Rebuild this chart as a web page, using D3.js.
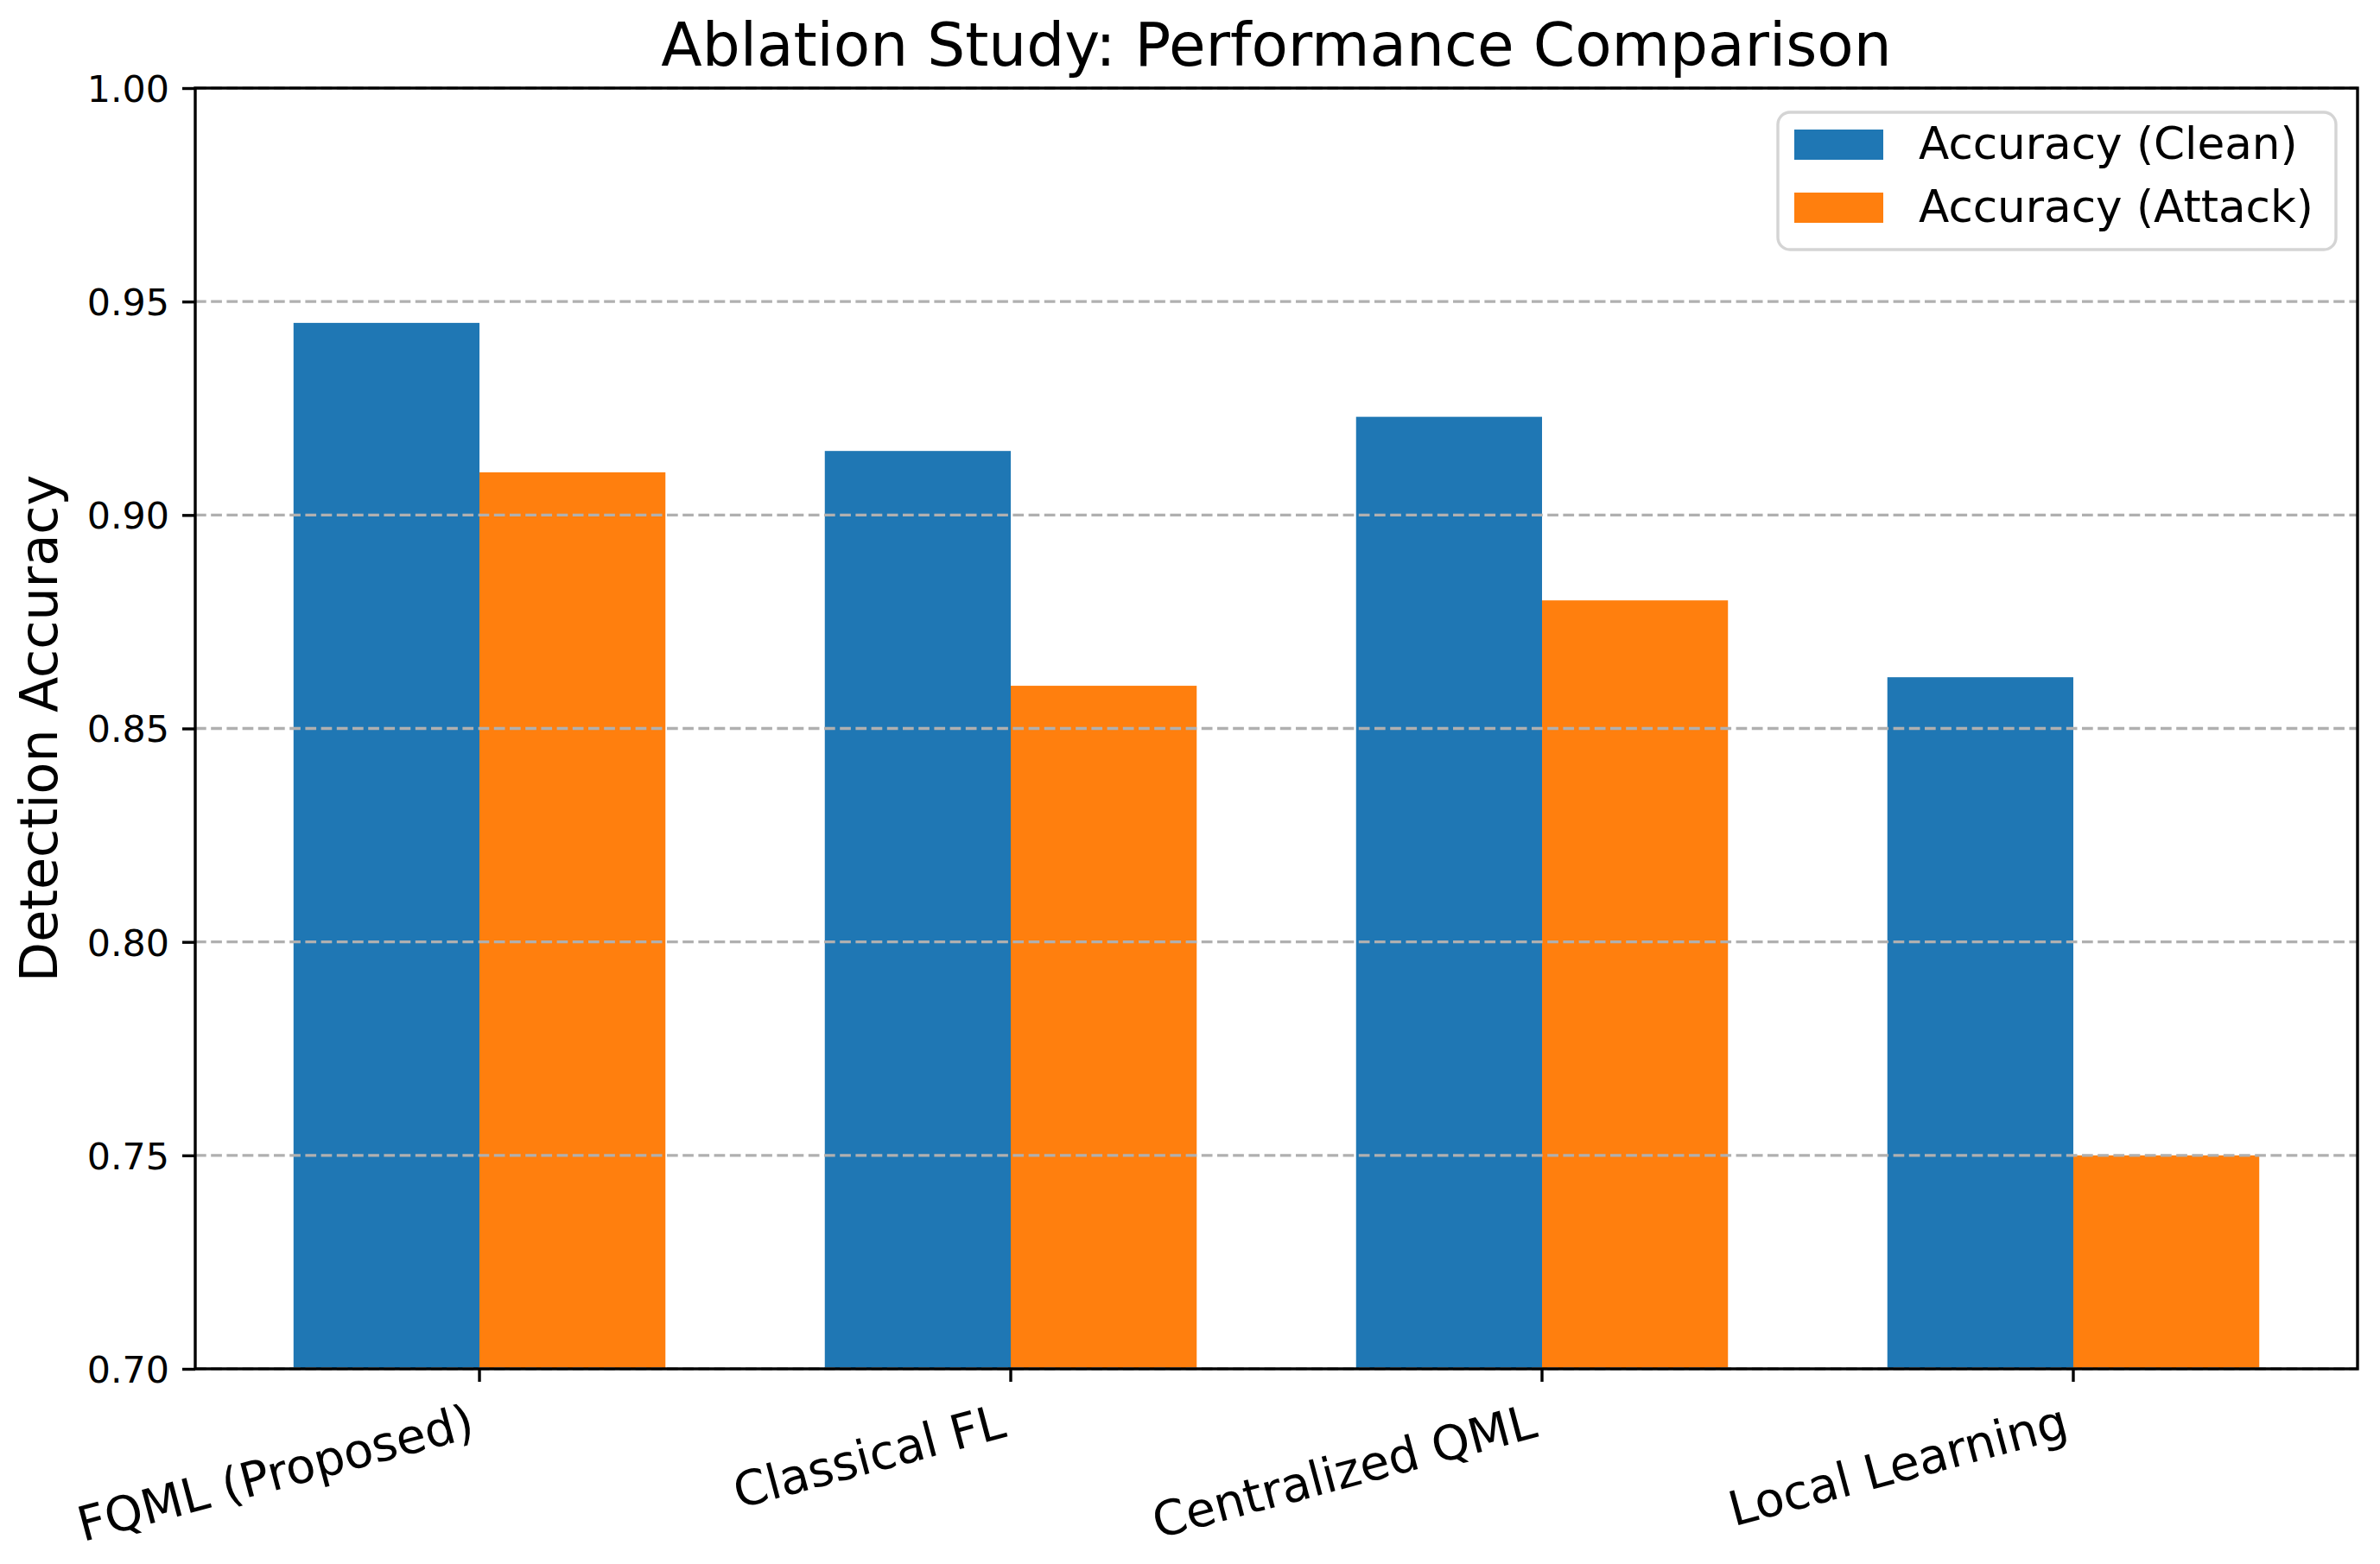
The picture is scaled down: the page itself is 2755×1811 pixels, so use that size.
<!DOCTYPE html>
<html>
<head>
<meta charset="utf-8">
<script src="https://cdn.jsdelivr.net/npm/d3@7"></script>
<style>
  html, body { margin: 0; padding: 0; background: #fff; }
  svg { display: block; font-family: "DejaVu Sans", sans-serif; }
</style>
</head>
<body>
<svg id="chart" width="2755" height="1811"></svg>
<script>
// ---- data ----
const categories = ["FQML (Proposed)", "Classical FL", "Centralized QML", "Local Learning"];
const seriesNames = ["Accuracy (Clean)", "Accuracy (Attack)"];
const cleanValues = [0.945, 0.915, 0.923, 0.862];
const attackValues = [0.910, 0.860, 0.880, 0.750];
const yTicks = [0.70, 0.75, 0.80, 0.85, 0.90, 0.95, 1.00];
const seriesColors = ["#1f77b4", "#ff7f0e"];
const titleText = "Ablation Study: Performance Comparison";
const yLabelText = "Detection Accuracy";

const series = [cleanValues, attackValues];

// ---- layout ----
const W = 2755, H = 1811;
const L = 226, R = 2729, T = 102, B = 1585;
const lw = 3.4;

const svg = d3.select("#chart");
svg.append("rect").attr("width", W).attr("height", H).attr("fill", "#fff");

const x0 = d3.scaleBand().domain(categories).range([L, R])
  .paddingInner(0.3).paddingOuter(0.185);
const x1 = d3.scaleBand().domain(seriesNames).range([0, x0.bandwidth()]).padding(0);
const y = d3.scaleLinear().domain([0.70, 1.00]).range([B, T]);

// bars
const gBars = svg.append("g");
categories.forEach((c, i) => {
  seriesNames.forEach((s, j) => {
    const v = series[j][i];
    gBars.append("rect")
      .attr("x", x0(c) + x1(s))
      .attr("y", y(v))
      .attr("width", x1.bandwidth())
      .attr("height", y(0.70) - y(v))
      .attr("fill", seriesColors[j]);
  });
});

// grid (above bars, like matplotlib)
svg.append("g")
  .selectAll("line").data(yTicks).join("line")
  .attr("x1", L).attr("x2", R)
  .attr("y1", d => y(d)).attr("y2", d => y(d))
  .attr("stroke", "#b0b0b0")
  .attr("stroke-width", lw)
  .attr("stroke-dasharray", "12.7,5.5");

// y axis
const yAxis = svg.append("g").attr("transform", `translate(${L},0)`)
  .call(d3.axisLeft(y).tickValues(yTicks).tickFormat(d3.format(".2f")).tickSize(15).tickPadding(15));
yAxis.select(".domain").remove();
yAxis.selectAll(".tick line").attr("stroke", "#000").attr("stroke-width", lw);
yAxis.selectAll(".tick text")
  .attr("font-family", "DejaVu Sans").attr("font-size", 42.8).attr("fill", "#000")
  .attr("dy", "0.36em");
yAxis.attr("font-family", null).attr("font-size", null);

// x axis
const xAxis = svg.append("g").attr("transform", `translate(0,${B})`)
  .call(d3.axisBottom(x0).tickSize(15).tickPadding(0));
xAxis.select(".domain").remove();
xAxis.attr("font-family", null).attr("font-size", null);
xAxis.selectAll(".tick line").attr("stroke", "#000").attr("stroke-width", lw);
const ang = 15 * Math.PI / 180;
xAxis.selectAll(".tick text")
  .attr("font-family", "DejaVu Sans").attr("font-size", 55.6).attr("fill", "#000")
  .attr("text-anchor", "end").attr("y", 0).attr("dy", 0)
  .each(function () {
    const b = this.getBBox();
    const corners = [[b.x, b.y], [b.x + b.width, b.y], [b.x, b.y + b.height], [b.x + b.width, b.y + b.height]];
    let maxX = -Infinity, minY = Infinity;
    corners.forEach(([px, py]) => {
      const xr = px * Math.cos(ang) + py * Math.sin(ang);
      const yr = -px * Math.sin(ang) + py * Math.cos(ang);
      maxX = Math.max(maxX, xr);
      minY = Math.min(minY, yr);
    });
    const tx = -maxX, ty = 15 + 13 - minY;
    d3.select(this).attr("transform", `translate(${tx},${ty}) rotate(-15)`);
  });

// spines
svg.append("rect")
  .attr("x", L).attr("y", T).attr("width", R - L).attr("height", B - T)
  .attr("fill", "none").attr("stroke", "#000").attr("stroke-width", lw)
  .attr("stroke-linejoin", "miter");

// title
svg.append("text")
  .attr("x", (L + R) / 2).attr("y", 76)
  .attr("text-anchor", "middle")
  .attr("font-size", 69.3).attr("fill", "#000")
  .text(titleText);

// y label
svg.append("text")
  .attr("transform", `translate(66,${(T + B) / 2}) rotate(-90)`)
  .attr("text-anchor", "middle")
  .attr("font-size", 60.3).attr("fill", "#000")
  .text(yLabelText);

// legend
const lg = svg.append("g");
lg.append("rect")
  .attr("x", 2058).attr("y", 130).attr("width", 646).attr("height", 159)
  .attr("rx", 14).attr("ry", 14)
  .attr("fill", "#fff").attr("fill-opacity", 0.8)
  .attr("stroke", "#d4d4d4").attr("stroke-width", 3.4);
const legendRows = [150, 223];
seriesNames.forEach((s, j) => {
  lg.append("rect")
    .attr("x", 2077).attr("y", legendRows[j])
    .attr("width", 103).attr("height", 35)
    .attr("fill", seriesColors[j]);
  lg.append("text")
    .attr("x", 2221).attr("y", legendRows[j] + 34)
    .attr("font-size", 51.6).attr("fill", "#000")
    .text(s);
});
</script>
</body>
</html>
